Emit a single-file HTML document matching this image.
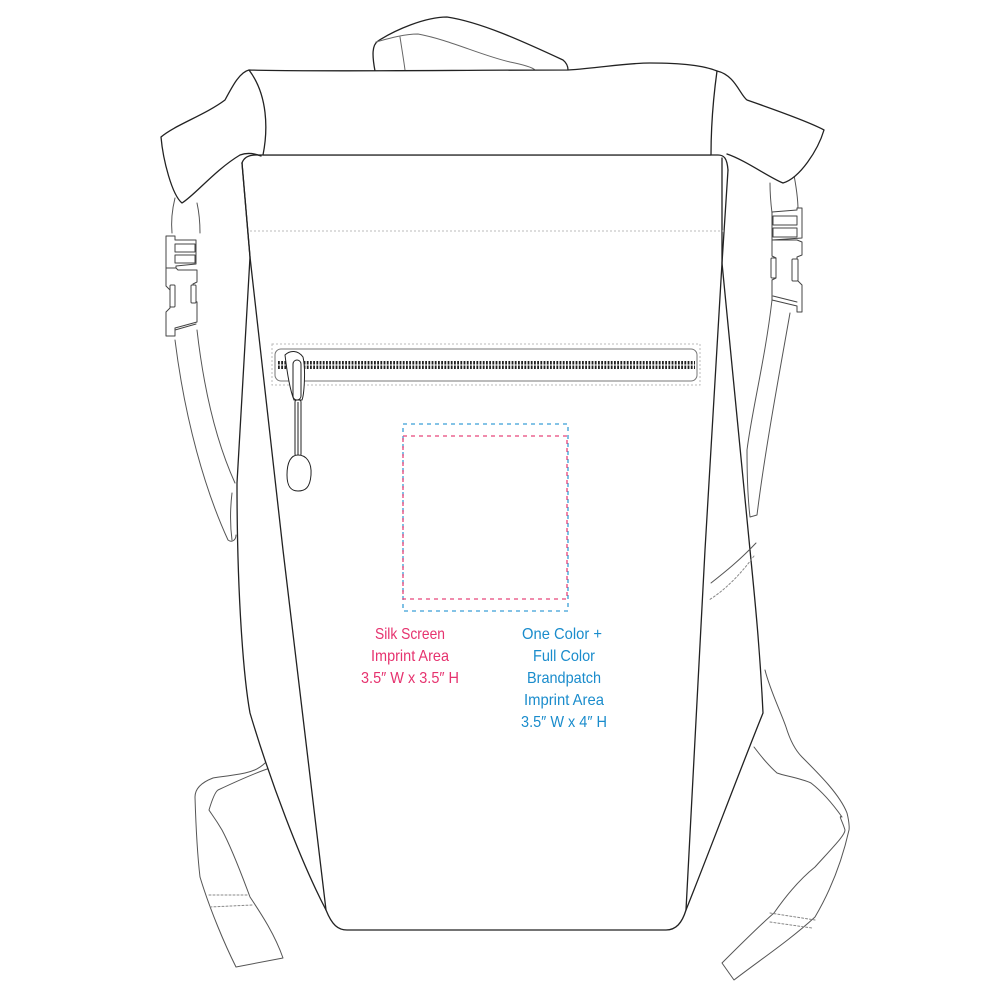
<!DOCTYPE html>
<html><head><meta charset="utf-8"><style>
html,body{margin:0;padding:0;background:#fff}
svg{display:block}
text{font-family:"Liberation Sans",sans-serif;font-size:16px}
</style></head><body>
<svg width="1000" height="1000" viewBox="0 0 1000 1000" xmlns="http://www.w3.org/2000/svg">
<g fill="none" stroke="#222" stroke-width="1.3" stroke-linejoin="round" stroke-linecap="round">
<!-- handle -->
<path d="M375,71 C372,55 372,45 378,41 C395,30 425,17 447,17 C480,22 520,40 563,60 C568,64 568,68 568,70" fill="#fff"/>
<path d="M376,42 C390,38 405,34 418,34 C450,40 480,55 510,62 C525,65 533,68 535,70" stroke="#666" stroke-width="1"/>
<path d="M400,37 C402,50 404,62 405,70" stroke="#666" stroke-width="1"/>
<!-- left strap upper -->
<g stroke="#555" stroke-width="1">
<path d="M175,198 C172,210 171,222 172,233"/>
<path d="M197,203 C199,212 200,222 200,233"/>
<path d="M175,340 C185,420 205,490 228,540 C232,543 236,540 236,535"/>
<path d="M197,330 C205,400 220,450 235,483"/>
<path d="M232,493 C230,510 230,525 232,540"/>
<!-- right strap upper -->
<path d="M770,183 C770,195 771,205 772,213"/>
<path d="M793,170 C796,185 798,198 798,210"/>
<path d="M772,300 C765,360 752,410 747,450 C747,480 748,500 750,517 L757,515 C765,450 780,370 790,313"/>
</g>
<!-- buckles -->
<g stroke="#444" stroke-width="1" fill="#fff">
<path d="M166,236 L175,236 L175,240 L196,240 L196,264 L176,266 L176,268 L166,268 Z"/>
<rect x="175" y="244" width="20" height="8"/><rect x="175" y="255" width="20" height="8"/>
<path d="M166,268 L176,268 L178,270 L197,270 L197,282 L193,284 L193,300 L197,302 L197,322 L175,328 L175,336 L166,336 L166,312 L170,308 L170,290 L166,286 Z"/>
<rect x="170" y="285" width="5" height="22" rx="1"/><rect x="191" y="285" width="5" height="18" rx="1"/>
<path d="M175,330 L196,324"/>
<path d="M772,212 L797,210 L797,208 L802,208 L802,238 L772,240 Z"/>
<rect x="773" y="216" width="24" height="9"/><rect x="773" y="228" width="24" height="9"/>
<path d="M772,240 L797,240 L802,242 L802,255 L797,257 L797,280 L802,285 L802,312 L797,312 L797,306 L772,300 L772,280 L776,278 L776,258 L772,256 Z"/>
<rect x="771" y="258" width="5" height="20" rx="1"/><rect x="792" y="259" width="6" height="22" rx="1"/>
<path d="M773,296 L797,302"/>
</g>
<!-- lower straps -->
<g stroke="#555" stroke-width="1" fill="#fff">
<path d="M265,763 C258,770 250,772 245,773 C230,776 218,777 213,778 C200,783 195,790 195,797 C196,830 198,860 200,877 C210,910 225,945 236,967 L283,958 C275,935 262,915 250,897 C240,870 230,845 222,830 C215,818 210,812 209,810 C212,800 215,792 218,790 C235,782 255,773 270,768"/>
<path d="M209,895 L247,895 M210,907 L252,905" stroke-dasharray="2,2" stroke="#888"/>
<path d="M765,670 C770,690 780,710 786,727 C790,740 795,750 802,757 C820,775 840,795 847,813 C850,825 849,830 849,830 C840,870 825,900 815,917 C790,940 760,960 734,980 L722,963 C740,945 760,925 774,913 C790,890 805,875 815,867 C835,845 845,835 845,830 C842,820 838,815 842,817 C830,800 820,790 811,783 C800,778 785,776 777,773 C768,765 760,755 754,747"/>
<path d="M770,913 L815,920 M770,922 L812,928" stroke-dasharray="2,2" stroke="#888"/>
</g>
<!-- body -->
<path d="M242,163 L250,257 L237,483 C237,600 244,680 250,713 C270,780 300,860 326,910 C332,925 338,930 347,930 L666,930 C676,930 682,923 686,910 C710,850 740,770 763,713 C760,650 755,600 750,550 L722,263 L722,158" fill="#fff"/>
<path d="M242,163 L250,257 L283,550 L326,910"/>
<path d="M728,170 L722,263 L705,550 L686,910"/>
<path d="M756,543 C740,560 725,572 711,583" stroke="#555" stroke-width="1"/>
<path d="M754,556 C740,575 725,590 709,600" stroke-dasharray="2,2" stroke="#888" stroke-width="1"/>
<!-- wings -->
<path d="M249,70 C240,72 233,85 225,100 C205,115 175,125 161,137 C163,160 172,195 182,203 C195,195 215,170 240,155 C248,152 256,154 261,156" fill="#fff"/>
<path d="M717,71 C735,75 740,95 747,100 C770,108 810,122 824,130 C818,150 800,178 783,183 C770,178 745,160 727,154" fill="#fff"/>
<!-- front panel top -->
<path d="M242,163 C244,157 250,155 256,155 L718,155 C724,155 727,158 728,170"/>
<!-- roll top -->
<path d="M249,70 C320,72 460,70 568,70 C600,68 625,63 650,63 C685,63 705,66 717,71 C713,100 711,130 711,155 L263,155 C268,130 268,95 249,70 Z" fill="#fff"/>
</g>
<!-- dotted line -->
<path d="M250,231 L725,231" stroke="#bbb" stroke-width="1" stroke-dasharray="2,2"/>
<!-- zipper -->
<rect x="272" y="344" width="428" height="41" fill="none" stroke="#bbb" stroke-width="1" stroke-dasharray="2,2"/>
<rect x="275" y="349" width="422" height="32" rx="6" fill="none" stroke="#777" stroke-width="1"/>
<path d="M278,365 L695,365" stroke="#222" stroke-width="8" stroke-dasharray="1.8,1.4"/>
<path d="M278,365 L695,365" stroke="#fff" stroke-width="1"/>
<g fill="#fff" stroke="#222" stroke-width="1">
<path d="M285,355 C290,350 298,350 303,357 C306,370 304,395 302,400 L294,400 C290,390 287,372 285,355 Z"/>
<rect x="293" y="360" width="8" height="40" rx="4"/>
<rect x="295" y="400" width="6" height="56" rx="2"/>
<line x1="298" y1="402" x2="298" y2="455"/>
<path d="M298,455 C306,455 312,462 311,475 C310,488 305,491 298,491 C292,491 287,488 287,475 C287,462 291,455 298,455 Z"/>
</g>
<!-- imprint boxes -->
<rect x="403" y="424" width="165" height="187" fill="none" stroke="#3a9fd6" stroke-width="1.3" stroke-dasharray="4,4"/>
<rect x="403" y="436" width="164" height="163" fill="none" stroke="#e8467a" stroke-width="1.3" stroke-dasharray="4,4"/>
<!-- labels -->
<g fill="#e6336f" text-anchor="middle">
<text x="410" y="639" textLength="70" lengthAdjust="spacingAndGlyphs">Silk Screen</text>
<text x="410" y="661" textLength="78" lengthAdjust="spacingAndGlyphs">Imprint Area</text>
<text x="410" y="683" textLength="98" lengthAdjust="spacingAndGlyphs">3.5″ W x 3.5″ H</text>
</g>
<g fill="#1a8ccc" text-anchor="middle">
<text x="562" y="639" textLength="80" lengthAdjust="spacingAndGlyphs">One Color +</text>
<text x="564" y="661" textLength="62" lengthAdjust="spacingAndGlyphs">Full Color</text>
<text x="564" y="683" textLength="74" lengthAdjust="spacingAndGlyphs">Brandpatch</text>
<text x="564" y="705" textLength="80" lengthAdjust="spacingAndGlyphs">Imprint Area</text>
<text x="564" y="727" textLength="86" lengthAdjust="spacingAndGlyphs">3.5″ W x 4″ H</text>
</g>
</svg>
</body></html>
